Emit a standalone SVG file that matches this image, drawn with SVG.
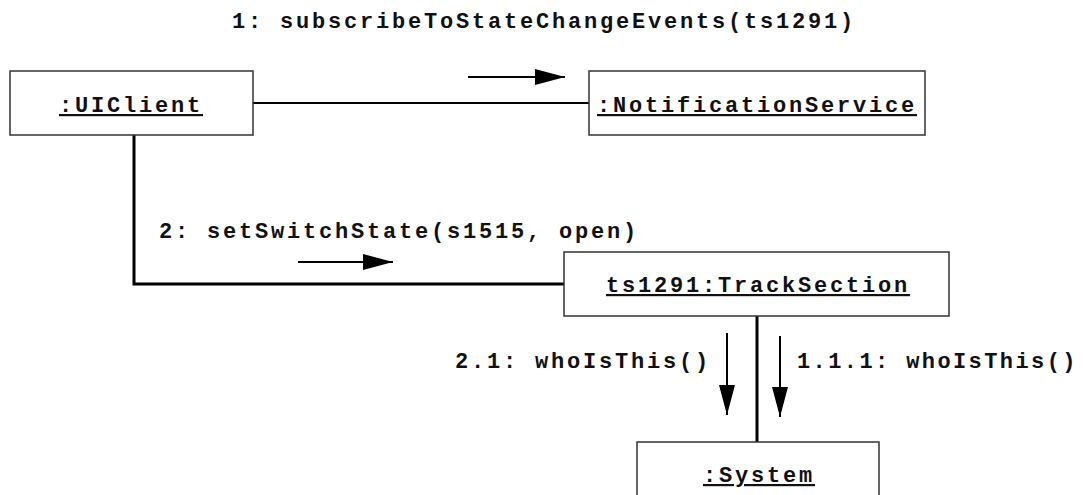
<svg xmlns="http://www.w3.org/2000/svg" width="1083" height="495" viewBox="0 0 1083 495">
  <defs>
    <marker id="msg" viewBox="0 0 30 16" refX="30" refY="8" markerWidth="30" markerHeight="16" markerUnits="userSpaceOnUse" orient="auto">
      <path d="M0,0 L30,8 L0,16 Z" fill="#000"/>
    </marker>
  </defs>
  <style>
    .box { fill: #fff; stroke: #333; stroke-width: 1.5; }
    .lbl { font-family: "Liberation Mono", "Courier New", monospace; font-weight: bold; font-size: 22px; letter-spacing: 2.8px; fill: #111; }
    .obj { text-decoration: underline; }
    .link { stroke: #000; fill: none; }
    .arrow { stroke: #000; stroke-width: 2; fill: none; marker-end: url(#msg); }
  </style>
  <rect width="1083" height="495" fill="#fff"/>

  <!-- links between objects and message arrows -->
  <g id="connectors">
    <line class="link" x1="253" y1="103" x2="589" y2="103" stroke-width="2"/>
    <polyline class="link" points="134,135 134,284 564,284" stroke-width="3"/>
    <line class="link" x1="757" y1="316" x2="757" y2="442" stroke-width="3"/>
    <line class="arrow" x1="468" y1="77" x2="565" y2="77"/>
    <line class="arrow" x1="298" y1="262" x2="393" y2="262"/>
    <line class="arrow" x1="727" y1="333" x2="727" y2="415"/>
    <line class="arrow" x1="780" y1="336" x2="780" y2="417"/>
    <text class="lbl" x="232" y="28">1: subscribeToStateChangeEvents(ts1291)</text>
    <text class="lbl" x="159" y="238">2: setSwitchState(s1515, open)</text>
    <text class="lbl" x="455" y="368">2.1: whoIsThis()</text>
    <text class="lbl" x="797" y="368" style="letter-spacing:2.4px">1.1.1: whoIsThis()</text>
  </g>

  <g id="uiclient">
    <rect class="box" x="10" y="71" width="243" height="64"/>
    <text class="lbl obj" x="59" y="112">:UIClient</text>
  </g>

  <g id="notificationservice">
    <rect class="box" x="589" y="71" width="336" height="64"/>
    <text class="lbl obj" x="597" y="112">:NotificationService</text>
  </g>

  <g id="tracksection">
    <rect class="box" x="564" y="252" width="385" height="64"/>
    <text class="lbl obj" x="606" y="292">ts1291:TrackSection</text>
  </g>

  <g id="system">
    <rect class="box" x="637" y="442" width="242" height="64"/>
    <text class="lbl obj" x="703" y="482">:System</text>
  </g>
</svg>
